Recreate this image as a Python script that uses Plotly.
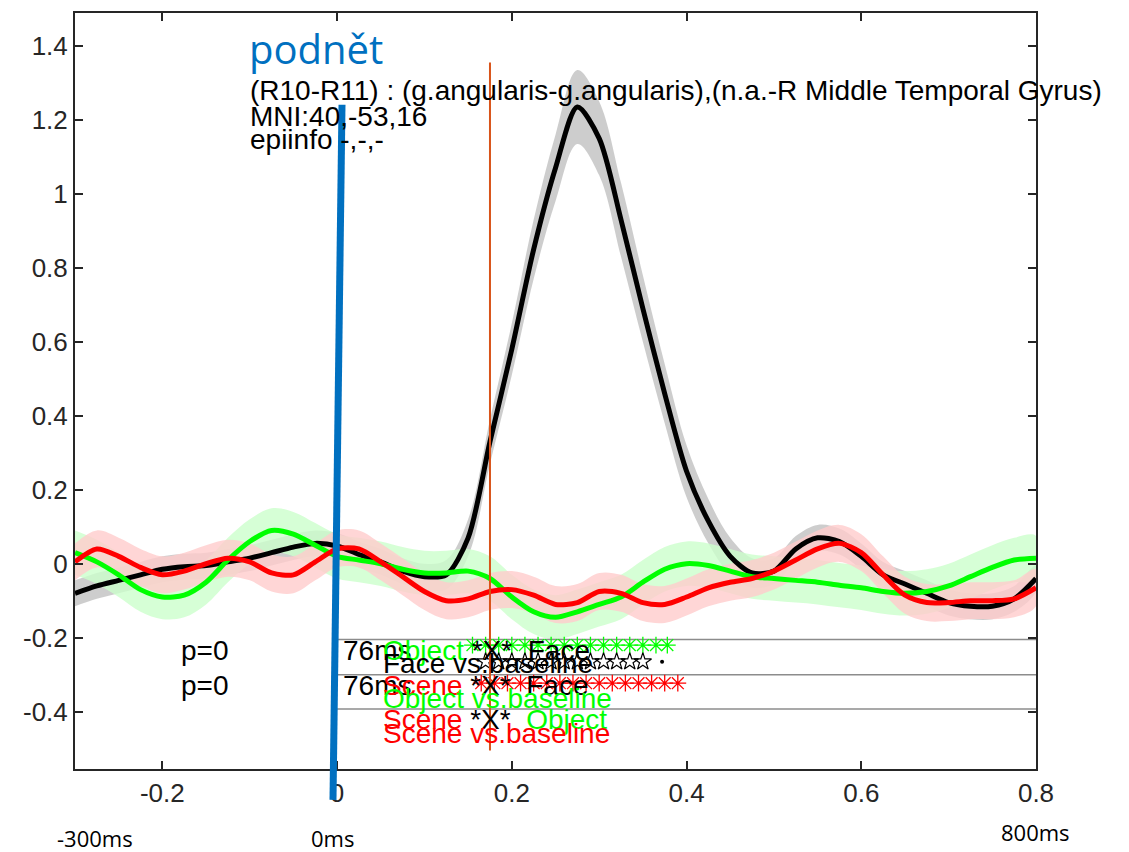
import plotly.graph_objects as go
import numpy as np

# ---- data -------------------------------------------------------------
t = [-0.3, -0.275, -0.25, -0.225, -0.2, -0.175, -0.15, -0.125, -0.1, -0.075,
     -0.05, -0.025, 0.0, 0.025, 0.05, 0.075, 0.1, 0.125, 0.15, 0.175,
     0.2, 0.225, 0.25, 0.275, 0.3, 0.325, 0.35, 0.375, 0.4, 0.425,
     0.45, 0.475, 0.5, 0.525, 0.55, 0.575, 0.6, 0.625, 0.65, 0.675,
     0.7, 0.725, 0.75, 0.775, 0.8]

face = [-0.08, -0.06, -0.045, -0.03, -0.015, -0.008, -0.005, 0.005, 0.015, 0.03,
        0.045, 0.055, 0.048, 0.025, 0.005, -0.02, -0.035, -0.03, 0.07, 0.33,
        0.58, 0.85, 1.07, 1.235, 1.15, 0.93, 0.69, 0.46, 0.25, 0.115,
        0.02, -0.025, -0.02, 0.04, 0.07, 0.06, 0.02, -0.03, -0.055, -0.08,
        -0.105, -0.115, -0.115, -0.095, -0.04]
face_err = [0.035, 0.035, 0.035, 0.035, 0.035, 0.035, 0.035, 0.035, 0.035, 0.035,
            0.035, 0.035, 0.035, 0.035, 0.035, 0.035, 0.035, 0.04, 0.05, 0.06,
            0.07, 0.08, 0.09, 0.1, 0.1, 0.1, 0.09, 0.08, 0.07, 0.06,
            0.05, 0.04, 0.035, 0.035, 0.035, 0.035, 0.035, 0.035, 0.035, 0.035,
            0.035, 0.035, 0.035, 0.035, 0.035]

obj = [0.03, 0.005, -0.03, -0.07, -0.09, -0.085, -0.05, 0.01, 0.06, 0.09,
       0.08, 0.05, 0.02, 0.01, 0.0, -0.015, -0.025, -0.025, -0.02, -0.04,
       -0.09, -0.13, -0.145, -0.13, -0.11, -0.09, -0.05, -0.015, 0.0, -0.005,
       -0.02, -0.035, -0.04, -0.045, -0.05, -0.058, -0.065, -0.075, -0.08, -0.075,
       -0.06, -0.035, -0.01, 0.01, 0.015]
obj_err = [0.06] * len(t)

scene = [0.005, 0.04, 0.02, -0.01, -0.03, -0.02, 0.0, 0.015, 0.005, -0.025,
         -0.03, 0.005, 0.04, 0.04, 0.005, -0.035, -0.075, -0.1, -0.095, -0.075,
         -0.07, -0.085, -0.11, -0.105, -0.075, -0.08, -0.105, -0.11, -0.09, -0.065,
         -0.05, -0.04, -0.02, 0.01, 0.04, 0.055, 0.03, -0.03, -0.085, -0.105,
         -0.105, -0.1, -0.1, -0.095, -0.065]
scene_err = [0.05] * len(t)

# significance rows
sig_obj_face_t = [0.155, 0.17, 0.185, 0.2, 0.215, 0.23, 0.245, 0.26, 0.275,
                  0.29, 0.305, 0.32, 0.335, 0.35, 0.365, 0.378]
sig_obj_face_y = -0.22
sig_face_base_t = [0.17, 0.185, 0.2, 0.215, 0.23, 0.245, 0.26, 0.275,
                   0.29, 0.305, 0.32, 0.335, 0.35]
sig_face_base_y = -0.265
sig_face_dot_t = [0.372]
sig_scene_face_t = [0.165, 0.18, 0.195, 0.21, 0.225, 0.24, 0.255, 0.27, 0.285,
                    0.3, 0.315, 0.33, 0.345, 0.36, 0.375, 0.39]
sig_scene_face_y = -0.323

row_lines_y = [-0.205, -0.3, -0.393]
row_lines_x = [0.0, 0.8]

marker_time = 0.175
marker_span = [-0.505, 1.355]

x_ticks = [-0.2, 0, 0.2, 0.4, 0.6, 0.8]
x_tick_text = ["-0.2", "0", "0.2", "0.4", "0.6", "0.8"]
y_ticks = [-0.4, -0.2, 0, 0.2, 0.4, 0.6, 0.8, 1.0, 1.2, 1.4]
y_tick_text = ["-0.4", "-0.2", "0", "0.2", "0.4", "0.6", "0.8", "1", "1.2", "1.4"]

# ---- layout geometry ----------------------------------------------------
W, H = 1129, 852
L, R, T, B = 75, 1036, 11, 769


def px(xp):
    return (xp - L) / (R - L)


def py(yp):
    return (B - yp) / (B - T)


fig = go.Figure()


def band(x, y, e, color):
    x = np.asarray(x)
    y = np.asarray(y)
    e = np.asarray(e)
    fig.add_trace(go.Scatter(
        x=np.concatenate([x, x[::-1]]),
        y=np.concatenate([y + e, (y - e)[::-1]]),
        fill="toself", fillcolor=color, line=dict(width=0, shape="spline"),
        mode="lines", hoverinfo="skip", showlegend=False))


band(t, face, face_err, "rgba(200,200,200,0.9)")
band(t, obj, obj_err, "rgba(204,255,204,0.8)")
band(t, scene, scene_err, "rgba(255,204,204,0.8)")

for y, c in [(face, "black"), (obj, "#00ff00"), (scene, "#ff0000")]:
    fig.add_trace(go.Scatter(x=t, y=y, mode="lines",
                             line=dict(color=c, width=5, shape="spline", smoothing=0.8),
                             showlegend=False))

for yy in row_lines_y:
    fig.add_trace(go.Scatter(x=row_lines_x, y=[yy, yy], mode="lines",
                             line=dict(color="#8c8c8c", width=1.5), showlegend=False))

fig.add_trace(go.Scatter(x=sig_obj_face_t, y=[sig_obj_face_y] * len(sig_obj_face_t),
                         mode="markers",
                         marker=dict(symbol="asterisk-open", size=14, color="#00ff00",
                                     line=dict(color="#00ff00", width=1.3)),
                         showlegend=False))
fig.add_trace(go.Scatter(x=sig_face_base_t, y=[sig_face_base_y] * len(sig_face_base_t),
                         mode="markers",
                         marker=dict(symbol="star-open", size=13, color="black",
                                     line=dict(color="black", width=1.2)),
                         showlegend=False))
fig.add_trace(go.Scatter(x=sig_face_dot_t, y=[sig_face_base_y],
                         mode="markers", marker=dict(symbol="circle", size=4, color="black"),
                         showlegend=False))
fig.add_trace(go.Scatter(x=sig_scene_face_t, y=[sig_scene_face_y] * len(sig_scene_face_t),
                         mode="markers",
                         marker=dict(symbol="asterisk-open", size=14, color="#ff0000",
                                     line=dict(color="#ff0000", width=1.3)),
                         showlegend=False))

# stimulus-time marker (data) and onset bar (overlay)
fig.add_shape(type="line", x0=marker_time, x1=marker_time,
              y0=marker_span[0], y1=marker_span[1],
              xref="x", yref="y", line=dict(color="#D95319", width=2))
fig.add_shape(type="line", xref="paper", yref="paper",
              x0=px(333), y0=py(800), x1=px(342), y1=py(103),
              line=dict(color="#0070C0", width=7), layer="above")

arial = "Liberation Sans, Arial, sans-serif"
sans = "Open Sans, Noto Sans, sans-serif"
G, K, Rd = "#00ff00", "black", "#ff0000"


def ann(text, x, y, size, color="black", family=arial, xanchor="left"):
    fig.add_annotation(text=text, x=px(x), y=py(y), xref="paper", yref="paper",
                       showarrow=False, xanchor=xanchor, yanchor="middle",
                       font=dict(family=family, size=size, color=color))


def span(s, c):
    return f'<span style="color:{c}">{s}</span>'


ann("podnět", 247, 47, 40, "#0070C0", sans)
ann("(R10-R11) : (g.angularis-g.angularis),(n.a.-R Middle Temporal Gyrus)", 248, 89, 28)
ann("MNI:40,-53,16", 248, 115, 28)
ann("epiinfo -,-,-", 248, 138, 28)

ann("p=0", 179, 650, 28)
ann("p=0", 179, 685, 28)
ann("76ms", 341, 650, 28)
ann("76ms", 341, 685, 28)
ann(span("Object", G) + span(" *X*  Face", K), 381, 650, 28)
ann(span("Face vs.baseline", K), 381, 663, 28)
ann(span("Scene", Rd) + span(" *X*  Face", K), 381, 685, 28)
ann(span("Object vs.baseline", G), 381, 698, 28)
ann(span("Scene", Rd) + span(" *X*  ", K) + span("Object", G), 381, 719, 28)
ann(span("Scene vs.baseline", Rd), 381, 733, 28)

ann("-300ms", 95, 838, 22, family=sans, xanchor="center")
ann("0ms", 332, 838, 22, family=sans, xanchor="center")
ann("800ms", 1035, 832, 22, family=sans, xanchor="center")

axis_common = dict(showline=True, linewidth=2, linecolor="#262626", mirror="ticks",
                   ticks="inside", ticklen=8, tickwidth=1.5, tickcolor="#262626",
                   showgrid=False, zeroline=False,
                   tickfont=dict(family=arial, size=26, color="#262626"))

fig.update_layout(
    width=W, height=H,
    margin=dict(l=L, r=W - R, t=T, b=H - B),
    paper_bgcolor="white", plot_bgcolor="white",
    xaxis=dict(range=[-0.3, 0.8], tickvals=x_ticks, ticktext=x_tick_text, **axis_common),
    yaxis=dict(range=[-0.555, 1.489], tickvals=y_ticks, ticktext=y_tick_text, **axis_common),
    showlegend=False,
)

fig.write_html("out.html")
